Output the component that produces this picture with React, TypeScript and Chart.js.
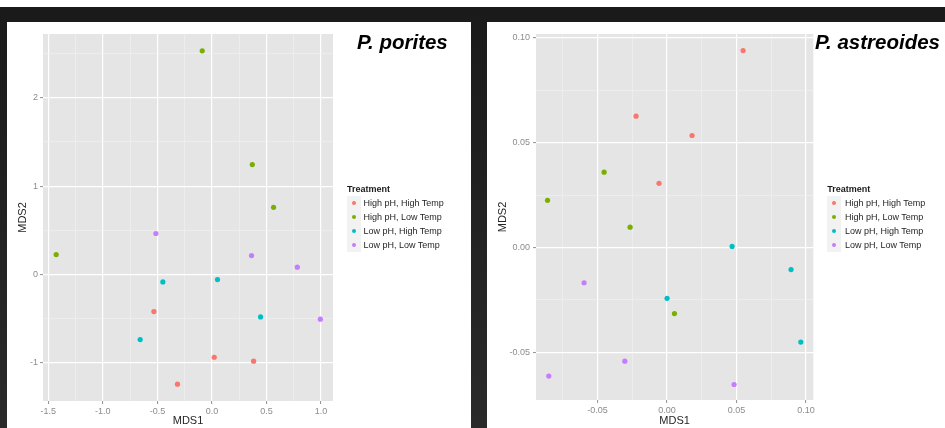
import React, { useEffect, useRef } from "react";
import { Chart, registerables } from "chart.js";

Chart.register(...registerables);

const FONT = "'Liberation Sans', Arial, Helvetica, sans-serif";

const seriesNames = ["High pH, High Temp", "High pH, Low Temp", "Low pH, High Temp", "Low pH, Low Temp"];
const seriesColors = ["#F8766D", "#7CAE00", "#00BFC4", "#C77CFF"];

// P. porites  [MDS1, MDS2]
const poritesHighPHHighTemp = [[-0.532, -0.419], [0.021, -0.935], [0.382, -0.98], [-0.316, -1.24]];
const poritesHighPHLowTemp = [[-0.089, 2.53], [0.37, 1.244], [0.565, 0.76], [-1.428, 0.226]];
const poritesLowPHHighTemp = [[-0.45, -0.083], [0.051, -0.057], [0.446, -0.479], [-0.658, -0.735]];
const poritesLowPHLowTemp = [[-0.514, 0.464], [0.363, 0.215], [0.783, 0.083], [0.994, -0.505]];
const poritesXTicks = [-1.5, -1.0, -0.5, 0.0, 0.5, 1.0];
const poritesYTicks = [-1, 0, 1, 2];

// P. astreoides  [MDS1, MDS2]
const astreoidesHighPHHighTemp = [[0.0547, 0.0939], [-0.0223, 0.0626], [0.018, 0.0534], [-0.0058, 0.0306]];
const astreoidesHighPHLowTemp = [[-0.0453, 0.0359], [-0.086, 0.0225], [-0.0266, 0.0097], [0.0053, -0.0315]];
const astreoidesLowPHHighTemp = [[0.0468, 0.0005], [0.0892, -0.0105], [0.0, -0.0242], [0.0962, -0.0451]];
const astreoidesLowPHLowTemp = [[-0.0597, -0.0168], [-0.0304, -0.0542], [-0.0851, -0.0613], [0.0482, -0.0653]];
const astreoidesXTicks = [-0.05, 0.0, 0.05, 0.1];
const astreoidesYTicks = [-0.05, 0.0, 0.05, 0.1];

type AxisCfg = {
  majors: number[];
  decimals: number;
  min: number;
  max: number;
  title: string;
  isX: boolean;
  size: number;
  padding: number;
};

function makeAxis(a: AxisCfg) {
  const step = a.majors[1] - a.majors[0];
  const all: number[] = [...a.majors];
  for (let i = -1; i < a.majors.length; i++) {
    const m = i < 0 ? a.majors[0] - step / 2 : a.majors[i] + step / 2;
    if (m >= a.min && m <= a.max) all.push(m);
  }
  all.sort((p, q) => p - q);
  const isMajor = (v: number) => a.majors.some((m) => Math.abs(m - v) < 1e-9);
  const tickVal = (ctx: any) => (ctx && ctx.tick ? ctx.tick.value : NaN);
  return {
    type: "linear",
    min: a.min,
    max: a.max,
    afterBuildTicks: (s: any) => {
      s.ticks = all.map((v) => ({ value: v }));
    },
    afterFit: (s: any) => {
      if (a.isX) s.height = a.size;
      else s.width = a.size;
    },
    border: { display: false },
    grid: {
      color: (ctx: any) => (isMajor(tickVal(ctx)) ? "#FFFFFF" : "#F2F2F2"),
      lineWidth: (ctx: any) => (isMajor(tickVal(ctx)) ? 1.2 : 0.6),
      tickColor: (ctx: any) => (isMajor(tickVal(ctx)) ? "#8f8f8f" : "rgba(0,0,0,0)"),
      tickLength: 3,
      tickWidth: 1,
      drawTicks: true,
    },
    ticks: {
      autoSkip: false,
      maxRotation: 0,
      minRotation: 0,
      padding: a.padding,
      color: "#8c8c8c",
      font: { family: FONT, size: 9 },
      callback: (v: any) => (isMajor(Number(v)) ? Number(v).toFixed(a.decimals) : ""),
    },
    title: {
      display: true,
      text: a.title,
      color: "#262626",
      font: { family: FONT, size: 11 },
      padding: a.isX ? { top: 0, bottom: 0 } : { top: 9.5, bottom: 0 },
    },
  };
}

const bgPlugin = {
  id: "panelBg",
  beforeDraw(chart: any) {
    const { ctx, chartArea } = chart;
    if (!chartArea) return;
    ctx.save();
    ctx.fillStyle = "#E5E5E5";
    ctx.fillRect(chartArea.left, chartArea.top, chartArea.width, chartArea.height);
    ctx.restore();
  },
};

type PanelCfg = {
  left: number;
  width: number;
  title: string;
  titleLeft: number;
  series: number[][][];
  x: AxisCfg;
  y: AxisCfg;
  padRight: number;
  legendLeft: number;
  legendTextLeft: number;
};

const PANEL_H = 406;

function Panel({ cfg }: { cfg: PanelCfg }) {
  const ref = useRef<HTMLCanvasElement | null>(null);
  useEffect(() => {
    if (!ref.current) return;
    const chart = new Chart(ref.current, {
      type: "scatter",
      data: {
        datasets: cfg.series.map((pts, i) => ({
          label: seriesNames[i],
          data: pts.map((p) => ({ x: p[0], y: p[1] })),
          backgroundColor: seriesColors[i],
          borderColor: seriesColors[i],
          borderWidth: 0,
          pointRadius: 2.6,
          pointHoverRadius: 2.6,
        })),
      },
      options: {
        responsive: false,
        animation: false,
        devicePixelRatio: 1,
        layout: { padding: { left: 0, top: 12, right: cfg.padRight, bottom: 0 } },
        plugins: { legend: { display: false }, tooltip: { enabled: false }, title: { display: false } },
        scales: {
          x: makeAxis(cfg.x) as any,
          y: makeAxis(cfg.y) as any,
        },
      },
      plugins: [bgPlugin],
    } as any);
    return () => chart.destroy();
  }, []);

  return (
    <div
      style={{
        position: "absolute",
        left: cfg.left,
        top: 22,
        width: cfg.width,
        height: PANEL_H,
        background: "#ffffff",
        overflow: "visible",
      }}
    >
      <canvas ref={ref} width={cfg.width} height={PANEL_H} style={{ display: "block" }} />
      <div
        style={{
          position: "absolute",
          left: cfg.titleLeft,
          top: 20 - 12,
          height: 24,
          lineHeight: "24px",
          fontFamily: FONT,
          fontWeight: "bold",
          fontStyle: "italic",
          fontSize: 20.5,
          color: "#000",
          whiteSpace: "nowrap",
        }}
      >
        {cfg.title}
      </div>
      <div
        style={{
          position: "absolute",
          left: cfg.legendLeft,
          top: 167 - 6,
          height: 12,
          lineHeight: "12px",
          fontFamily: FONT,
          fontWeight: "bold",
          fontSize: 9,
          color: "#1a1a1a",
          whiteSpace: "nowrap",
        }}
      >
        Treatment
      </div>
      {seriesNames.map((name, i) => {
        const cy = 180.8 + i * 14.2;
        return (
          <React.Fragment key={name}>
            <div
              style={{
                position: "absolute",
                left: cfg.legendLeft,
                top: cy - 7,
                width: 14,
                height: 14,
                background: "#F2F2F2",
              }}
            >
              <div
                style={{
                  position: "absolute",
                  left: 5,
                  top: 5,
                  width: 4,
                  height: 4,
                  borderRadius: "50%",
                  background: seriesColors[i],
                }}
              />
            </div>
            <div
              style={{
                position: "absolute",
                left: cfg.legendTextLeft,
                top: cy - 6,
                height: 12,
                lineHeight: "12px",
                fontFamily: FONT,
                fontSize: 9,
                color: "#1f1f1f",
                whiteSpace: "nowrap",
              }}
            >
              {name}
            </div>
          </React.Fragment>
        );
      })}
    </div>
  );
}

const poritesPanel: PanelCfg = {
  left: 7,
  width: 464,
  title: "P. porites",
  titleLeft: 350,
  series: [poritesHighPHHighTemp, poritesHighPHLowTemp, poritesLowPHHighTemp, poritesLowPHLowTemp],
  x: { majors: poritesXTicks, decimals: 1, min: -1.549, max: 1.11, title: "MDS1", isX: true, size: 27, padding: 2 },
  y: { majors: poritesYTicks, decimals: 0, min: -1.43, max: 2.72, title: "MDS2", isX: false, size: 36, padding: 2 },
  padRight: 138,
  legendLeft: 340,
  legendTextLeft: 356.5,
};

const astreoidesPanel: PanelCfg = {
  left: 487,
  width: 458,
  title: "P. astreoides",
  titleLeft: 328,
  series: [astreoidesHighPHHighTemp, astreoidesHighPHLowTemp, astreoidesLowPHHighTemp, astreoidesLowPHLowTemp],
  x: { majors: astreoidesXTicks, decimals: 2, min: -0.0943, max: 0.1052, title: "MDS1", isX: true, size: 28, padding: 2 },
  y: { majors: astreoidesYTicks, decimals: 2, min: -0.0727, max: 0.1018, title: "MDS2", isX: false, size: 49, padding: 3 },
  padRight: 131.7,
  legendLeft: 340.3,
  legendTextLeft: 358,
};

export default function App() {
  return (
    <div
      style={{
        position: "fixed",
        left: 0,
        top: 0,
        width: 945,
        height: 428,
        overflow: "hidden",
        background: "#ffffff",
      }}
    >
      <div
        style={{
          position: "absolute",
          left: 0,
          top: 7,
          width: 945,
          height: 421,
          background: "linear-gradient(#1a1a1a, #2a2a2a)",
        }}
      />
      <Panel cfg={poritesPanel} />
      <Panel cfg={astreoidesPanel} />
    </div>
  );
}
